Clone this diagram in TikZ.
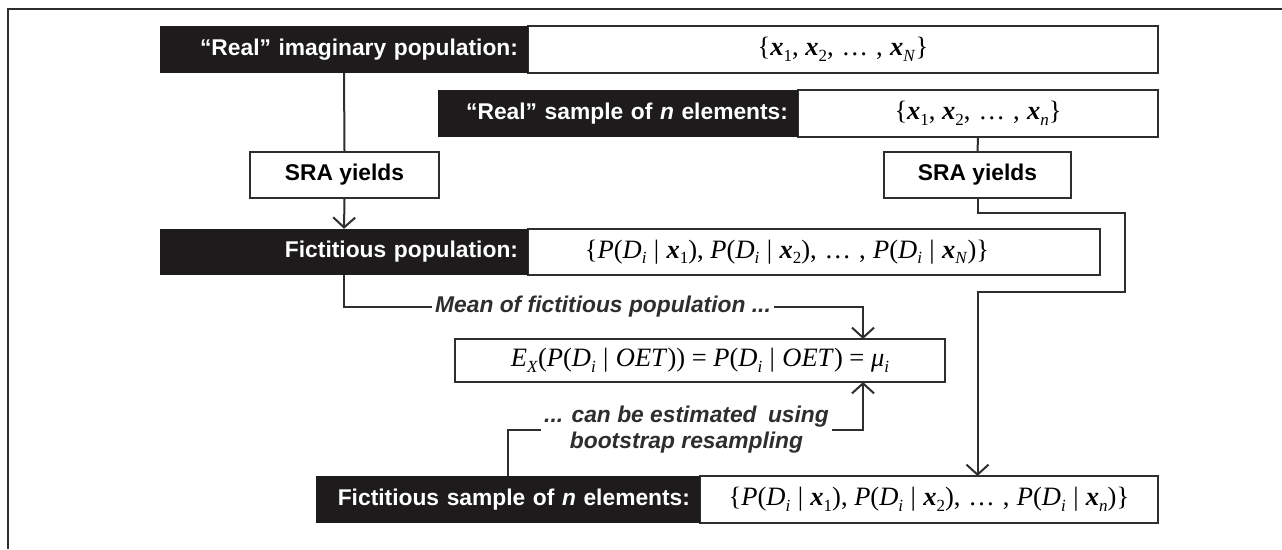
\documentclass[tikz,border=0pt]{standalone}
\usepackage{fontspec}
\usetikzlibrary{arrows.meta}
\newfontfamily\arialf{Liberation Sans}
\newfontfamily\tmsf{Liberation Serif}
\definecolor{blk}{HTML}{1E1B1C}
\definecolor{ln}{HTML}{2E2E2E}
\newcommand\bx{{\bfseries\itshape x}}
\newcommand\sbs[1]{\raisebox{-0.45ex}{\fontsize{17}{17}\selectfont #1}}
\newcommand\ii{\textit{i}}
\newcommand\vbr{\hspace{0.28em}|\hspace{0.28em}}
\newcommand\dts{\hspace{0.3em}…\hspace{0.3em},\hspace{0.28em}}
\newcommand\Pd[1]{\textit{P}(\textit{D}\sbs{\ii}\vbr\bx\sbs{#1})}
\tikzset{
  blkbox/.style={fill=blk, text=white, font=\arialf\bfseries\fontsize{22.8}{26}\selectfont,
    minimum height=47pt, inner xsep=10pt, align=right, anchor=center},
  whtbox/.style={draw=ln, line width=1.8pt, fill=white, minimum height=47pt, inner sep=0pt,
    font=\tmsf\fontsize{26.5}{30}\selectfont},
  srabox/.style={draw=ln, line width=1.8pt, fill=white, minimum height=46pt, inner sep=0pt,
    font=\arialf\bfseries\fontsize{22.8}{26}\selectfont},
  lbl/.style={font=\arialf\bfseries\itshape\fontsize{22.8}{26}\selectfont, inner sep=3pt, text=ln},
  conn/.style={draw=ln, line width=2pt},
  arr/.style={conn, -{Straight Barb[length=10pt,width=22pt]}},
}
\begin{document}
\begin{tikzpicture}[x=1pt,y=-1pt]
\useasboundingbox (0,0) rectangle (1282,549);
\fill[white] (0,0) rectangle (1282,549);
% frame
\draw[ln, line width=1.6pt] (8,549) -- (8,9) -- (1282,9);

% row 1
\node[whtbox, minimum width=630pt] (b1r) at (843,49.5) {\{\bx\sbs{1}, \bx\sbs{2},\dts\bx\sbs{\textit{N}}\}};
\node[blkbox, text width=348pt] (b1l) at (344,49.5) {“Real” imaginary population:};

% row 2
\node[whtbox, minimum width=360pt] (b2r) at (978,113.5) {\{\bx\sbs{1}, \bx\sbs{2},\dts\bx\sbs{\textit{n}}\}};
\node[blkbox, text width=340pt] (b2l) at (618,113.5) {“Real” sample of \textit{n} elements:};

% SRA boxes
\node[srabox, minimum width=189pt] (sra1) at (344.5,175) {SRA yields};
\node[srabox, minimum width=187pt] (sra2) at (977.5,175) {SRA yields};

% fictitious population
\node[whtbox, minimum width=572pt, minimum height=46pt] (fpr) at (814,252) {\hspace*{-54pt}\{\Pd{1}, \Pd{2},\dts\Pd{\textit{N}}\}};
\node[blkbox, text width=348pt, minimum height=46pt] (fpl) at (344,252) {Fictitious population:};

% equation
\node[whtbox, minimum width=490pt, minimum height=43pt] (eq) at (700,360.5)
  {\textit{E}\sbs{\textit{X}}(\textit{P}(\textit{D}\sbs{\ii}\vbr\textit{OET})) = \textit{P}(\textit{D}\sbs{\ii}\vbr\textit{OET}) = \textit{μ}\sbs{\ii}};

% bottom
\node[whtbox, minimum width=458pt] (btr) at (929,499.5) {\{\Pd{1}, \Pd{2},\dts\Pd{\textit{n}}\}};
\node[blkbox, text width=364pt] (btl) at (508,499.5) {Fictitious sample of \textit{n} elements:};

% labels
\node[lbl, anchor=west] (mean) at (432,307) {Mean of fictitious population ...};
\node[lbl, align=center] (can) at (686.5,430) {... can be estimated\enspace using\\bootstrap resampling};

% coordinates
\coordinate (eqin) at (863,339);
\coordinate (eqout) at (863,382);
\coordinate (btin) at (508,476);
\coordinate (rA) at (977.5,213);
\coordinate (rB) at (1125,292);
\coordinate (btin2) at (977.5,476);

% connectors
\draw[conn] (b1l.south) -- (sra1.north);
\draw[arr] (sra1.south) -- (fpl.north);
\draw[conn] (b2r.south) -- (sra2.north);
\draw[arr] (sra2.south) -- (rA) -| (rB) -| (btin2);
\draw[conn] (fpl.south) |- (mean.west);
\draw[arr] (mean.east) -| (eqin);
\draw[arr] (can.east) -| (eqout);
\draw[conn] (can.west) -| (btin);
\end{tikzpicture}
\end{document}
